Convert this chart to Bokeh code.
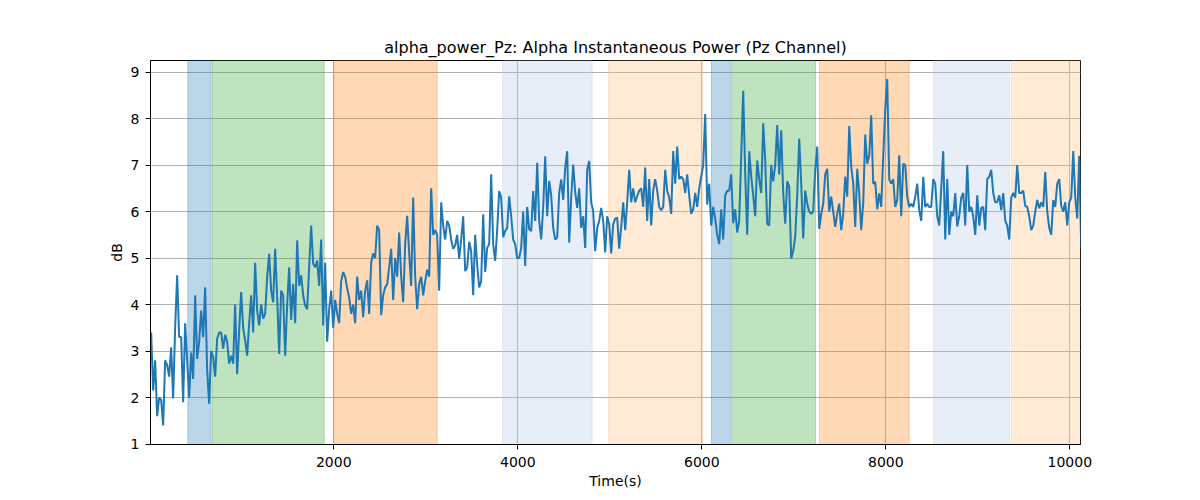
import numpy as np
from bokeh.plotting import figure
from bokeh.models import Range1d, BoxAnnotation, FixedTicker, ColumnDataSource
from bokeh.embed import file_html
from bokeh.resources import INLINE

# ---- data ----
t_start = 15.0
t_step = 21.74

power_db = [
    # 0 - 1700 s
    3.4, 2.15, 2.8, 1.6, 2.0, 1.95, 1.4, 2.8, 2.7, 2.45, 3.08, 1.98, 3.5, 4.63, 3.3, 3.3,
    1.9, 3.6, 2.8, 2.0, 2.97, 2.4, 4.2, 2.83, 3.2, 3.87, 3.3, 4.37, 2.6, 1.87, 3.0, 2.87,
    2.45, 3.27, 3.4, 3.4, 3.05, 3.35, 3.2, 2.73, 2.9, 2.73, 4.0, 2.5, 3.45, 4.27, 3.5, 3.23,
    2.9, 3.6, 4.2, 3.4, 4.9, 3.87, 3.55, 4.0, 3.7, 3.8, 4.6, 5.09, 4.3, 4.05, 5.2, 4.16,
    2.94, 4.3, 4.2, 2.9, 4.0, 4.8, 3.67, 4.44, 3.6, 5.38, 4.4, 4.63, 4.2, 3.98, 3.9,
    # 1700 - 3400 s
    4.8, 5.7, 4.88, 4.8, 4.95, 4.4, 5.4, 3.55, 4.9, 3.2, 3.9, 4.3, 3.5, 4.1, 3.8, 3.6,
    4.5, 4.7, 4.6, 4.35, 4.15, 3.8, 4.0, 3.6, 4.6, 4.1, 4.3, 3.73, 4.3, 4.52, 3.8, 4.9,
    5.1, 5.0, 5.7, 5.6, 3.77, 4.2, 4.37, 4.44, 4.8, 5.2, 4.1, 5.0, 4.6, 5.55, 4.6, 4.05,
    5.3, 5.91, 5.1, 4.4, 6.3, 4.6, 3.9, 4.44, 4.6, 4.2, 4.5, 4.75, 4.6, 6.5, 5.5, 5.6,
    5.5, 4.3, 6.2, 5.7, 5.4, 5.8, 5.7, 5.4, 5.2, 5.27, 5.5, 4.98, 5.4, 5.9,
    # 3400 - 5100 s
    4.72, 4.8, 5.35, 5.15, 4.2, 5.5, 4.85, 4.37, 4.5, 5.94, 4.7, 5.22, 5.3, 6.8, 5.3, 4.94,
    5.6, 6.44, 6.3, 5.45, 5.58, 5.65, 6.33, 5.9, 5.4, 5.3, 5.0, 5.0, 5.22, 6.0, 4.83, 6.1,
    5.62, 5.58, 6.44, 5.8, 7.05, 5.8, 5.4, 6.1, 7.19, 5.9, 6.66, 6.35, 5.65, 5.4, 5.44, 6.4,
    6.69, 6.25, 6.94, 7.3, 5.33, 6.3, 7.01, 6.42, 6.08, 6.5, 5.65, 5.9, 5.22, 6.9, 7.09, 6.2,
    6.01, 5.15, 5.65, 5.8, 6.08, 5.8, 5.12, 5.9, 5.73, 5.1, 5.73, 5.85, 5.87,
    # 5100 - 6800 s
    5.2, 5.67, 6.2, 5.6, 6.2, 6.9, 6.2, 6.5, 6.2, 6.33, 6.45, 6.5, 6.1, 6.95, 5.8, 6.7,
    5.7, 6.45, 6.7, 6.45, 6.1, 6.03, 6.1, 6.9, 6.45, 6.3, 5.95, 7.3, 6.6, 7.4, 6.7, 6.75,
    6.7, 6.4, 6.8, 6.35, 5.95, 6.05, 6.4, 6.1, 6.5, 6.75, 7.0, 8.1, 6.15, 6.6, 5.7, 6.1,
    5.85, 5.5, 5.3, 6.05, 5.4, 6.35, 6.45, 6.45, 6.8, 5.75, 6.05, 5.55, 5.8, 7.2, 8.6, 6.8,
    5.5, 7.3, 6.75, 6.35, 5.9, 7.1, 6.7, 6.4, 7.9, 7.1, 5.74, 5.7, 7.0, 6.65,
    # 6800 - 8500 s
    7.0, 7.86, 6.8, 7.75, 6.4, 5.74, 6.65, 6.53, 4.99, 5.15, 5.46, 6.35, 7.57, 6.6, 5.42, 6.45,
    6.17, 6.0, 5.95, 6.0, 6.89, 7.4, 5.63, 5.95, 6.17, 6.8, 6.92, 6.0, 6.32, 6.0, 5.67, 5.95,
    6.17, 5.6, 5.95, 6.75, 6.32, 7.84, 6.96, 6.6, 5.67, 6.92, 6.39, 5.6, 6.17, 7.66, 7.03, 7.2,
    8.07, 6.6, 6.64, 6.05, 6.39, 6.1, 7.18, 8.2, 8.85, 6.7, 6.6, 6.7, 6.1, 6.25, 7.21, 5.9,
    7.03, 7.0, 6.32, 6.1, 6.17, 6.1, 6.32, 6.6, 6.03, 5.8, 6.75, 6.1, 6.17,
    # 8500 - 10120 s
    6.1, 6.1, 6.7, 6.6, 5.9, 5.7, 6.5, 7.3, 5.4, 6.7, 5.5, 6.0, 5.9, 6.4, 5.68, 5.9,
    6.3, 6.4, 5.7, 7.0, 6.0, 6.1, 5.9, 5.5, 6.35, 5.7, 6.08, 6.1, 5.6, 6.7, 6.75, 6.9,
    6.4, 6.2, 6.2, 6.35, 6.03, 6.4, 5.8, 5.7, 5.4, 6.3, 6.4, 6.3, 7.0, 6.4, 6.4, 6.45,
    6.12, 6.1, 5.9, 5.6, 5.7, 6.0, 6.25, 6.07, 6.2, 6.1, 6.85, 6.0, 5.65, 5.5, 6.25, 6.1,
    6.6, 6.7, 6.12, 6.0, 6.2, 5.7, 6.2, 6.3, 7.3, 6.3, 5.85, 7.2, 5.2,
]

time_s = [t_start + t_step * i for i in range(len(power_db))]

span_starts = [413, 681, 2000, 3834, 4986, 6105, 6323, 7279, 8518, 9366]
span_ends = [667, 1896, 3124, 4809, 6011, 6309, 7236, 8254, 9345, 10200]
span_colors = ["#1f77b4", "#2ca02c", "#ff7f0e", "#aec7e8", "#ffbb78",
               "#1f77b4", "#2ca02c", "#ff7f0e", "#aec7e8", "#ffbb78"]

x_ticks = [2000, 4000, 6000, 8000, 10000]
y_ticks = [1, 2, 3, 4, 5, 6, 7, 8, 9]

FONT = "DejaVu Sans"

p = figure(
    frame_width=930, frame_height=384,
    min_border_left=150, min_border_right=112,
    min_border_top=60, min_border_bottom=48,
    x_range=Range1d(8, 10116), y_range=Range1d(0.99, 9.25),
    output_backend="svg", toolbar_location=None,
    title="alpha_power_Pz: Alpha Instantaneous Power (Pz Channel)",
)

p.title.align = "center"
p.title.text_font = FONT
p.title.text_font_size = "16px"
p.title.text_font_style = "normal"
p.title.text_color = "black"
p.title.standoff = 7

for s, e, c in zip(span_starts, span_ends, span_colors):
    p.add_layout(BoxAnnotation(left=s, right=e, fill_color=c, fill_alpha=0.3,
                               line_color=c, line_alpha=0.3, line_width=1,
                               level="underlay"))

src = ColumnDataSource(dict(t=time_s, v=power_db))
p.line("t", "v", source=src, line_color="#1f77b4", line_width=2)

p.xaxis.ticker = FixedTicker(ticks=x_ticks)
p.yaxis.ticker = FixedTicker(ticks=y_ticks)
p.xaxis.axis_label = "Time(s)"
p.yaxis.axis_label = "dB"

for ax in (p.xaxis, p.yaxis):
    ax.axis_label_text_font = FONT
    ax.axis_label_text_font_size = "14px"
    ax.axis_label_text_font_style = "normal"
    ax.axis_label_text_color = "black"
    ax.major_label_text_font = FONT
    ax.major_label_text_font_size = "14px"
    ax.major_label_text_color = "black"
    ax.major_tick_out = 5
    ax.major_tick_in = 0
    ax.minor_tick_out = 0
    ax.minor_tick_in = 0
    ax.axis_line_color = "black"
    ax.major_tick_line_color = "black"

p.xaxis.major_label_standoff = 7
p.xaxis.axis_label_standoff = 3
p.yaxis.major_label_standoff = 6
p.yaxis.axis_label_standoff = 3

p.xgrid.grid_line_color = "#b0b0b0"
p.ygrid.grid_line_color = "#b0b0b0"
p.xgrid.grid_line_width = 1
p.ygrid.grid_line_width = 1
p.grid.level = "underlay"

p.outline_line_color = "black"
p.outline_line_width = 1
p.outline_line_alpha = 1
p.background_fill_color = "white"
p.border_fill_color = "white"

open("out.html", "w").write(file_html(p, INLINE))
